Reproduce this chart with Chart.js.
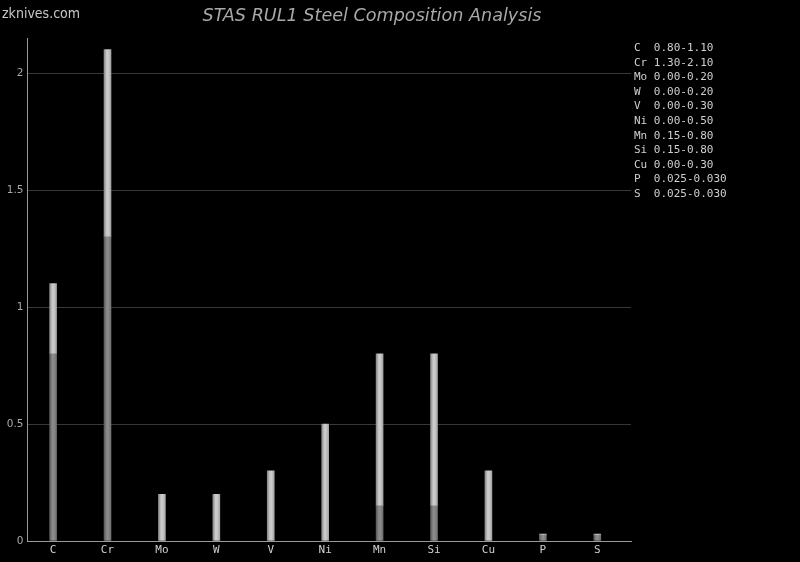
<!DOCTYPE html>
<html lang="en">
<head>
    <meta charset="UTF-8" />
    <title>STAS RUL1 Steel Composition Analysis</title>
    <script src="https://cdn.jsdelivr.net/npm/chart.js"></script>
    <style>
        html, body { margin: 0; padding: 0; background: #000; }
        .wrap { position: relative; width: 800px; height: 562px; background: #000; overflow: hidden; }
        #site { position: absolute; left: 2px; top: 5px; font-family: "DejaVu Sans Condensed", "DejaVu Sans", sans-serif; font-size: 14px; color: #c8c8c8; }
        #title { position: absolute; left: 122px; width: 500px; top: 5px; text-align: center; font-family: "DejaVu Sans", sans-serif; font-style: italic; font-size: 17.6px; color: #a8a8a8; }
        #ranges { position: absolute; left: 634px; top: 41px; margin: 0; font-family: "DejaVu Sans Mono", monospace; font-size: 11px; line-height: 14.6px; color: #cfcfcf; white-space: pre; }
        #chartBox { position: absolute; left: 0; top: 0; width: 800px; height: 562px; }
    </style>
</head>
<body>
    <div class="wrap">
        <div id="chartBox"><canvas id="myChart"></canvas></div>
        <div id="site">zknives.com</div>
        <div id="title">STAS RUL1 Steel Composition Analysis</div>
        <pre id="ranges"></pre>
    </div>

    <script>
        const elements = ["C", "Cr", "Mo", "W", "V", "Ni", "Mn", "Si", "Cu", "P", "S"];
        const minPct = [0.80, 1.30, 0.00, 0.00, 0.00, 0.00, 0.15, 0.15, 0.00, 0.025, 0.025];
        const maxPct = [1.10, 2.10, 0.20, 0.20, 0.30, 0.50, 0.80, 0.80, 0.30, 0.030, 0.030];
        const rangeText = ["0.80-1.10", "1.30-2.10", "0.00-0.20", "0.00-0.20", "0.00-0.30", "0.00-0.50",
                           "0.15-0.80", "0.15-0.80", "0.00-0.30", "0.025-0.030", "0.025-0.030"];
        const yTicks = [0, 0.5, 1, 1.5, 2];

        // range list on the right
        document.getElementById("ranges").textContent = elements
            .map((el, i) => el.padEnd(3, " ") + rangeText[i])
            .join("\n");

        // cylinder look: dark edges, light middle
        function barFill(dark, mid, light) {
            return (ctx) => {
                const chart = ctx.chart;
                const xs = chart.scales.x;
                if (!xs || ctx.type !== "data") return mid;
                const cx = xs.getPixelForValue(ctx.dataIndex);
                if (!isFinite(cx)) return mid;
                const g = chart.ctx.createLinearGradient(cx - 4, 0, cx + 4, 0);
                g.addColorStop(0, dark);
                g.addColorStop(0.4, light);
                g.addColorStop(0.6, light);
                g.addColorStop(1, mid);
                return g;
            };
        }

        Chart.defaults.font.family = "'DejaVu Sans', sans-serif";

        new Chart(document.getElementById("myChart").getContext("2d"), {
            type: "bar",
            data: {
                datasets: [
                    {
                        label: "min",
                        data: minPct.map((v, i) => ({ x: i, y: v })),
                        backgroundColor: barFill("#505050", "#6a6a6a", "#8a8a8a"),
                        barThickness: 7,
                        borderWidth: 0,
                    },
                    {
                        label: "range",
                        data: maxPct.map((v, i) => ({ x: i, y: v - minPct[i] })),
                        backgroundColor: barFill("#7c7c7c", "#9c9c9c", "#cacaca"),
                        barThickness: 7,
                        borderWidth: 0,
                    },
                ],
            },
            options: {
                responsive: true,
                maintainAspectRatio: false,
                animation: false,
                layout: { padding: { top: 38, right: 169, left: 0, bottom: 0 } },
                plugins: {
                    legend: { display: false },
                    title: { display: false },
                    tooltip: { enabled: false },
                },
                scales: {
                    x: {
                        type: "linear",
                        stacked: true,
                        offset: false,
                        min: -0.47,
                        max: 10.62,
                        afterBuildTicks: (s) => { s.ticks = elements.map((_, i) => ({ value: i })); },
                        afterFit: (s) => { s.height = 21; },
                        grid: { display: false, drawTicks: false },
                        border: { display: true, color: "#9a9a9a", width: 1 },
                        ticks: {
                            color: "#cfcfcf",
                            padding: 3,
                            maxRotation: 0,
                            autoSkip: false,
                            font: { family: "'DejaVu Sans Mono', monospace", size: 11 },
                            callback: (v) => elements[v],
                        },
                    },
                    y: {
                        stacked: true,
                        min: 0,
                        max: 2.15,
                        afterBuildTicks: (s) => { s.ticks = yTicks.map((v) => ({ value: v })); },
                        afterFit: (s) => { s.width = 27.5; },
                        grid: { color: "#383838", drawTicks: false },
                        border: { display: true, color: "#9a9a9a", width: 1 },
                        ticks: {
                            color: "#a8a8a8",
                            padding: 4,
                            font: { size: 10.5 },
                            callback: (v) => String(v),
                        },
                    },
                },
            },
        });
    </script>
</body>
</html>
